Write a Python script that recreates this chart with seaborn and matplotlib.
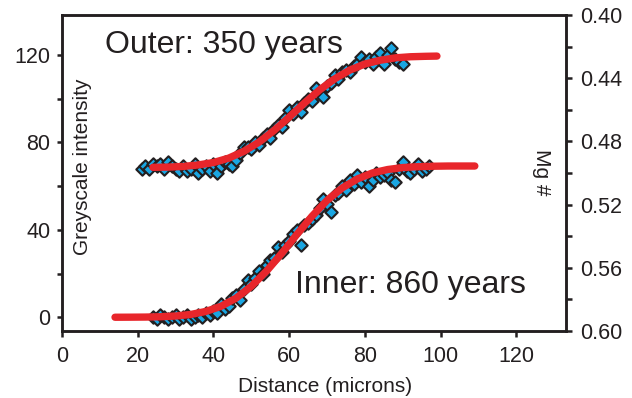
import matplotlib
matplotlib.use("Agg")
import matplotlib.pyplot as plt
from matplotlib.ticker import MultipleLocator, FormatStrFormatter
import seaborn as sns
import pandas as pd

# Outer zone profile: measured greyscale intensity vs. distance
outer_x = [21, 22, 23, 24, 25, 26, 27, 28, 29, 30, 31, 32, 33, 34, 35, 36, 37, 38,
           39, 40, 41, 42, 43, 44, 45, 46, 47, 48, 49, 50, 51, 52, 53, 54, 55, 56,
           57, 58, 59, 60, 61, 62, 63, 64, 65, 66, 67, 68, 69, 70, 71, 72, 73, 74,
           75, 76, 77, 78, 79, 80, 81, 82, 83, 84, 85, 86, 87, 88, 89, 90]
outer_y = [68, 69, 68, 70, 69, 70, 68, 71, 69, 68, 67, 69, 67, 68, 70, 66, 68, 69,
           67, 70, 66, 69, 71, 70, 69, 72, 75, 78, 78, 77, 80, 79, 82, 84, 82, 86,
           88, 87, 91, 95, 93, 96, 94, 98, 100, 99, 105, 103, 101, 106, 107, 111, 109, 112,
           113, 112, 115, 116, 119, 117, 118, 116, 119, 121, 116, 120, 123, 118, 117, 116]

# Inner zone profile
inner_x = [24, 25, 26, 27, 28, 29, 30, 31, 32, 33, 34, 35, 36, 37, 38, 39, 40, 41,
           42, 43, 44, 45, 46, 47, 48, 49, 50, 51, 52, 53, 54, 55, 56, 57, 58, 59,
           60, 61, 62, 63, 64, 65, 66, 67, 68, 69, 70, 71, 72, 73, 74, 75, 76, 77,
           78, 79, 80, 81, 82, 83, 84, 85, 86, 87, 88, 89, 90, 91, 92, 93, 94, 95,
           96, 97]
inner_y = [0, -1, 1, 0, -1, 0, 1, -1, 0, 1, -1, 0, 1, 0, 2, 1, 3, 2,
           6, 4, 5, 9, 10, 8, 13, 17, 15, 18, 21, 20, 24, 26, 27, 32, 30, 33,
           35, 38, 40, 33, 42, 43, 45, 47, 50, 54, 52, 48, 56, 57, 60, 58, 63, 61,
           65, 62, 64, 60, 63, 66, 64, 65, 66, 63, 62, 68, 71, 67, 66, 68, 70, 67,
           68, 69]

# Diffusion model curves
outer_fit_x = [24, 28, 32, 36, 40, 44, 48, 52, 56, 60, 64, 68, 72, 76, 80, 84, 88,
               92, 96, 99]
outer_fit_y = [68.6, 68.7, 69.0, 69.7, 70.8, 72.8, 75.9, 80.1, 85.5, 91.6, 98.0,
               104.0, 109.1, 113.1, 115.9, 117.6, 118.7, 119.2, 119.4, 119.5]

inner_fit_x = [14, 18, 22, 26, 30, 34, 38, 42, 46, 50, 54, 58, 62, 66, 70, 74, 78,
               82, 86, 90, 94, 98, 102, 106, 109]
inner_fit_y = [0.0, 0.03, 0.08, 0.23, 0.57, 1.28, 2.67, 5.02, 8.79, 14.19, 21.1,
               29.2, 37.85, 46.2, 53.5, 59.2, 63.3, 66.05, 67.6, 68.5, 68.9, 69.1,
               69.2, 69.2, 69.2]

mg_ticks = [0.40, 0.44, 0.48, 0.52, 0.56, 0.60]

INK = "#231f20"
BLUE = "#1aa6e2"
RED = "#e8262b"

sns.set_style("ticks")
plt.rcParams["font.family"] = ["Liberation Sans", "DejaVu Sans"]
plt.rcParams["text.color"] = INK
plt.rcParams["axes.labelcolor"] = INK
plt.rcParams["xtick.color"] = INK
plt.rcParams["ytick.color"] = INK

fig = plt.figure(figsize=(6.32, 3.98), dpi=100)
ax = fig.add_axes([0.0981, 0.1683, 0.7970, 0.7940])

outer_df = pd.DataFrame({"x": outer_x, "y": outer_y})
inner_df = pd.DataFrame({"x": inner_x, "y": inner_y})
for df in (outer_df, inner_df):
    sns.scatterplot(data=df, x="x", y="y", marker="D", s=40, color=BLUE,
                    edgecolor=INK, linewidth=1.5, ax=ax, zorder=2)

for fx, fy in ((outer_fit_x, outer_fit_y), (inner_fit_x, inner_fit_y)):
    sns.lineplot(x=fx, y=fy, color=RED, linewidth=5.3, estimator=None, sort=False,
                 ax=ax, zorder=3, solid_capstyle="round", solid_joinstyle="round")

ax.set_xlim(0, 133)
ax.set_ylim(-6.3, 138.3)
ax.xaxis.set_major_locator(MultipleLocator(20))
ax.yaxis.set_major_locator(MultipleLocator(40))
ax.yaxis.set_minor_locator(MultipleLocator(20))
ax.tick_params(axis="both", which="both", direction="out", width=1.8,
               labelsize=15.5)
ax.tick_params(axis="x", which="major", length=4.5, pad=6)
ax.tick_params(axis="y", which="both", length=3.5, pad=5)

for sp in ax.spines.values():
    sp.set_visible(True)
    sp.set_linewidth(1.8)
    sp.set_color(INK)

ax.set_xlabel("Distance (microns)", fontsize=15)
ax.xaxis.set_label_coords(0.523, -0.145)
ax.set_ylabel("")

ax.text(5.4, 68.8, "Greyscale intensity", rotation=90, ha="center",
        va="center", fontsize=15)
ax.text(126.6, 66.2, "Mg #", rotation=270, ha="center", va="center",
        fontsize=15)

ax.text(11.3, 120.8, "Outer: 350 years", fontsize=23, va="baseline")
ax.text(61.5, 11, "Inner: 860 years", fontsize=23, va="baseline")

ax2 = ax.twinx()
ax2.set_ylim(0.60, 0.40)
ax2.set_yticks(mg_ticks)
ax2.yaxis.set_minor_locator(MultipleLocator(0.02))
ax2.yaxis.set_major_formatter(FormatStrFormatter("%.2f"))
ax2.tick_params(axis="y", which="both", direction="out", width=1.8,
                length=4.5, pad=6, labelsize=15.5, colors=INK)
for sp in ax2.spines.values():
    sp.set_linewidth(1.8)
    sp.set_color(INK)

fig.savefig("out.png", dpi=100)
